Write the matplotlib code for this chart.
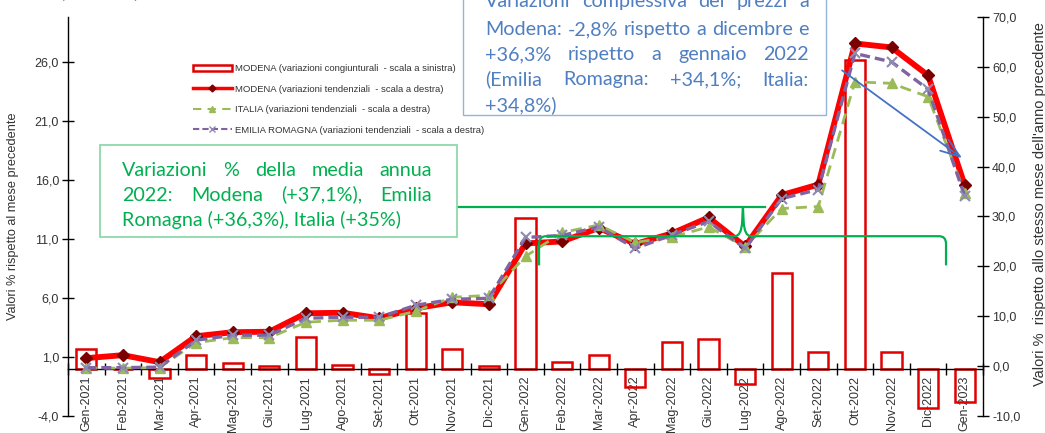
import numpy as np
import matplotlib
matplotlib.use("Agg")
import matplotlib.pyplot as plt
from matplotlib.patches import Rectangle, PathPatch
from matplotlib.path import Path
from matplotlib.lines import Line2D
from matplotlib.ticker import FixedLocator, FuncFormatter, NullFormatter

# ---------------- data ----------------
months = ['Gen-2021', 'Feb-2021', 'Mar-2021', 'Apr-2021', 'Mag-2021', 'Giu-2021',
          'Lug-2021', 'Ago-2021', 'Set-2021', 'Ott-2021', 'Nov-2021', 'Dic-2021',
          'Gen-2022', 'Feb-2022', 'Mar-2022', 'Apr-2022', 'Mag-2022', 'Giu-2022',
          'Lug-2022', 'Ago-2022', 'Set-2022', 'Ott-2022', 'Nov-2022', 'Dic-2022',
          'Gen-2023']
modena_cong = [1.7, 0.0, -0.8, 1.2, 0.5, 0.2, 2.7, 0.3, -0.4, 4.7, 1.7, 0.2,
               12.8, 0.6, 1.2, -1.5, 2.3, 2.5, -1.3, 8.1, 1.4, 26.2, 1.4, -3.3, -2.8]
modena_tend = [1.6, 2.2, 0.8, 6.0, 6.8, 6.9, 10.6, 10.7, 9.6, 11.6, 12.8, 12.4,
               24.6, 25.0, 27.7, 24.5, 26.6, 29.8, 24.0, 34.3, 36.4, 64.7, 63.9, 58.3, 36.3]
italia_tend = [-0.4, -0.4, -0.3, 4.7, 5.7, 5.7, 8.8, 9.2, 9.2, 11.0, 13.8, 14.2,
               22.0, 26.8, 28.3, 24.8, 25.9, 27.9, 23.9, 31.6, 32.0, 57.0, 56.7, 54.0, 34.8]
er_tend = [-0.3, -0.3, -0.2, 5.2, 6.2, 6.2, 9.6, 9.8, 9.8, 12.2, 13.4, 13.6,
           25.8, 26.2, 27.9, 23.6, 26.3, 29.0, 23.6, 33.6, 35.4, 62.7, 61.0, 55.5, 34.1]
left_ticks = [-4, 1, 6, 11, 16, 21, 26]
right_ticks = [-10, 0, 10, 20, 30, 40, 50, 60, 70]

legend_labels = ['MODENA (variazioni congiunturali  - scala a sinistra)',
                 'MODENA (variazioni tendenziali  - scala a destra)',
                 'ITALIA (variazioni tendenziali  - scala a destra)',
                 'EMILIA ROMAGNA (variazioni tendenziali  - scala a destra)']
blue_lines = ['Variazioni complessiva dei prezzi a',
              'Modena: -2,8% rispetto a dicembre e',
              '+36,3% rispetto a gennaio 2022',
              '(Emilia Romagna: +34,1%; Italia:',
              '+34,8%)']
green_lines = ['Variazioni % della media annua',
               '2022: Modena (+37,1%), Emilia',
               'Romagna (+36,3%), Italia (+35%)']

# ---------------- figure ----------------
W, H = 1045, 433
fig = plt.figure(figsize=(W / 100, H / 100), dpi=100)
fig.patch.set_facecolor('white')
ax = fig.add_axes([68 / W, 17 / H, 915 / W, 399 / H])
ax2 = ax.twinx()

x = np.arange(len(months))
TXT = '#333333'
FONT = 'Liberation Sans'

ax.bar(x, modena_cong, width=0.55, facecolor='none', edgecolor='#E00000',
       linewidth=1.8, zorder=2)

ax2.plot(x, modena_tend, color='#FF0000', lw=4.2, marker='D', ms=6.5,
         mfc='#7A0000', mec='#7A0000', zorder=3, solid_joinstyle='miter')
ax2.plot(x, italia_tend, color='#9BBB59', lw=2.0, ls=(0, (4, 2.5)), marker='^',
         ms=7, mfc='#9BBB59', mec='#9BBB59', zorder=4)
ax2.plot(x, er_tend, color='#8064A2', lw=2.4, ls=(0, (3, 1.5)), marker='x',
         ms=7, mec='#8E8AB0', mew=1.5, zorder=5)

# axes limits / spines
ax.set_xlim(-0.5, len(months) - 0.5)
ax.set_ylim(-4, 29.85)
ax2.set_ylim(-10, 70)
for s in ['top', 'right']:
    ax.spines[s].set_visible(False)
ax.spines['bottom'].set_position(('data', 0))
for s in ['top', 'left', 'bottom']:
    ax2.spines[s].set_visible(False)
for sp in [ax.spines['left'], ax.spines['bottom'], ax2.spines['right']]:
    sp.set_color('black')
    sp.set_linewidth(1.0)

fmt = FuncFormatter(lambda v, p: f"{v:.1f}".replace('.', ','))
ax.yaxis.set_major_locator(FixedLocator(left_ticks))
ax.yaxis.set_major_formatter(fmt)
ax2.yaxis.set_major_locator(FixedLocator(right_ticks))
ax2.yaxis.set_major_formatter(fmt)
for a in (ax, ax2):
    a.tick_params(axis='y', direction='inout', length=9, width=1.0,
                  labelsize=9, labelcolor=TXT, pad=2)
    for lab in a.get_yticklabels():
        lab.set_fontfamily(FONT)

ax.xaxis.set_major_locator(FixedLocator(np.arange(-0.5, len(months), 1.0)))
ax.xaxis.set_major_formatter(NullFormatter())
ax.xaxis.set_minor_locator(FixedLocator(x))
ax.set_xticks(x, months, minor=True)
ax.tick_params(axis='x', which='major', direction='inout', length=9, width=1.0)
ax.tick_params(axis='x', which='minor', length=0, labelsize=9, labelcolor=TXT,
               pad=5, labelrotation=90)
for lab in ax.get_xticklabels(minor=True):
    lab.set_fontfamily(FONT)
    lab.set_va('top')

ax.set_ylabel('Valori % rispetto al mese precedente', fontsize=9.2, color=TXT,
              family=FONT)
ax.yaxis.set_label_coords((19 - 68) / 915, 0.5)
ax2.set_ylabel("Valori %  rispetto allo stesso mese dell'anno precedente",
               fontsize=10.5, color=TXT, family=FONT, rotation=90)
ax2.yaxis.set_label_coords((1033 - 68) / 915, 0.532)

# legend
handles = [Rectangle((0, 0), 1, 1, facecolor='white', edgecolor='#E00000', lw=1.8),
           Line2D([], [], color='#FF0000', lw=2.5, marker='D', ms=3.5,
                  mfc='#800000', mec='#800000'),
           Line2D([], [], color='#9BBB59', lw=1.5, ls=(0, (4, 3)), marker='^',
                  ms=4, mfc='#9BBB59', mec='#9BBB59'),
           Line2D([], [], color='#8064A2', lw=1.5, ls=(0, (3, 1.5)), marker='x',
                  ms=4, mec='#8E8AB0')]
leg = fig.legend(handles, legend_labels, loc='upper left',
                 bbox_to_anchor=(193 / W, 1 - 64 / H), frameon=False,
                 prop={'family': FONT, 'size': 6.8}, handlelength=4.1,
                 handleheight=0.55, handletextpad=0.35, labelspacing=1.22,
                 borderpad=0, borderaxespad=0)
for t in leg.get_texts():
    t.set_color(TXT)

# ---------------- annotation boxes ----------------
BOXFONT = 'Lato'
renderer = fig.canvas.get_renderer()


def text_width(s, size):
    t = fig.text(0, 0, s, fontsize=size, family=BOXFONT)
    w = t.get_window_extent(renderer).width
    t.remove()
    return w


# choose size so that the last green line spans its measured width
size = 10 * 279 / text_width(green_lines[-1], 10)


def put_lines(lines, x0, x1, baselines, justify, color):
    for line, yb, j in zip(lines, baselines, justify):
        yf = 1 - yb / H
        if not j:
            fig.text(x0 / W, yf, line, ha='left', va='baseline', fontsize=size,
                     family=BOXFONT, color=color, zorder=10)
            continue
        words = line.split()
        widths = [text_width(w, size) for w in words]
        gap = (x1 - x0 - sum(widths)) / (len(words) - 1)
        xx = x0
        for w, wd in zip(words, widths):
            fig.text(xx / W, yf, w, ha='left', va='baseline', fontsize=size,
                     family=BOXFONT, color=color, zorder=10)
            xx += wd + gap


# blue box
fig.patches.append(Rectangle((463 / W, 1 - 115 / H), (826 - 463) / W, 125 / H,
                             transform=fig.transFigure, facecolor='white',
                             edgecolor='#95B3D7', lw=1.0, zorder=9))
put_lines(blue_lines, 485, 809, [7, 35, 60, 85.5, 111],
          [True, True, True, True, False], '#4F7FC0')

# green box
fig.patches.append(Rectangle((100 / W, 1 - 237 / H), (457 - 100) / W, 92 / H,
                             transform=fig.transFigure, facecolor='white',
                             edgecolor='#8FD9AC', lw=1.3, zorder=9))
put_lines(green_lines, 122, 432, [175.5, 200.5, 225.5], [True, True, False],
          '#00B050')

# cut-off text at very top
fig.text(60 / W, 1 + 2.5 / H, '(valori %)', ha='left', va='baseline',
         fontsize=size, family=BOXFONT, color='#404040')

# green connector line and brace (right-axis data coordinates)
GREEN = '#00B050'
ax2.plot([10.13, 18.54], [32.0, 32.0], color=GREEN, lw=1.6, clip_on=False, zorder=8)
verts = [(12.37, 20.2), (12.37, 24.5), (12.37, 26.05), (12.56, 26.05),
         (17.72, 26.05), (17.90, 26.05), (17.92, 29.0), (17.94, 32.06),
         (17.96, 29.0), (17.98, 26.05), (18.16, 26.05),
         (23.30, 26.05), (23.49, 26.05), (23.49, 24.5), (23.49, 20.2)]
codes = [Path.MOVETO, Path.LINETO, Path.CURVE3, Path.CURVE3,
         Path.LINETO, Path.CURVE3, Path.CURVE3, Path.LINETO,
         Path.LINETO, Path.CURVE3, Path.CURVE3,
         Path.LINETO, Path.CURVE3, Path.CURVE3, Path.LINETO]
ax2.add_patch(PathPatch(Path(verts, codes), facecolor='none', edgecolor=GREEN,
                        lw=1.6, zorder=8, clip_on=False))

# blue arrow
ax2.annotate('', xy=(23.93, 41.7), xytext=(20.65, 59.3),
             arrowprops=dict(arrowstyle='->,head_length=1.4,head_width=0.5',
                             color='#4472C4', lw=1.3, shrinkA=0, shrinkB=0),
             zorder=9)

fig.savefig('out.png', dpi=100, facecolor='white')
